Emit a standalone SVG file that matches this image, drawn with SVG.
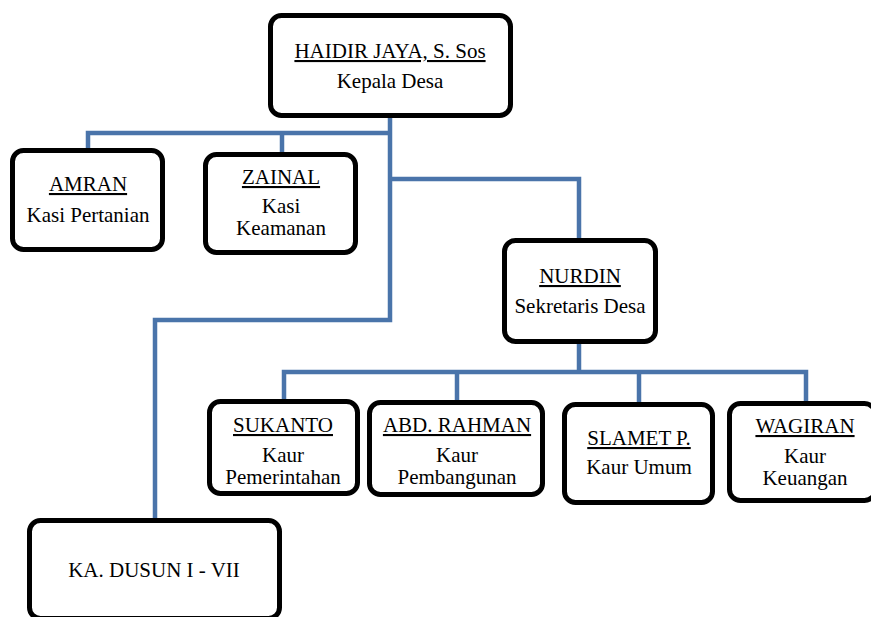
<svg xmlns="http://www.w3.org/2000/svg" width="871" height="617" viewBox="0 0 871 617">
<defs>
<style>
.box{fill:#fff;stroke:#000;stroke-width:5}
.c{fill:none;stroke:#4A74AA;stroke-width:4.5;stroke-linejoin:miter}
</style>
</defs>
<rect width="871" height="617" fill="#fff"/>
<g id="connectors">
<path class="c" d="M390 117 V320 H155 V519"/>
<path class="c" d="M88 149 V133 H390"/>
<path class="c" d="M282 133 V153"/>
<path class="c" d="M390 179 H579 V239"/>
<path class="c" d="M579 343 V372"/>
<path class="c" d="M284 400 V372 H806 V403"/>
<path class="c" d="M457 372 V401"/>
<path class="c" d="M639 372 V403"/>
</g>
<g id="nodes" font-family="Liberation Serif" font-size="21" text-anchor="middle" fill="#000">
<g id="haidir">
<rect class="box" x="270.5" y="15.5" width="240" height="100" rx="11"/>
<text text-decoration="underline" x="390" y="58">HAIDIR JAYA, S. Sos</text>
<text x="390" y="88">Kepala Desa</text>
</g>
<g id="amran">
<rect class="box" x="12.5" y="150.5" width="150" height="99" rx="11"/>
<text text-decoration="underline" x="88" y="191">AMRAN</text>
<text x="88" y="222">Kasi Pertanian</text>
</g>
<g id="zainal">
<rect class="box" x="205.5" y="154.5" width="150" height="98" rx="11"/>
<text text-decoration="underline" x="281" y="184">ZAINAL</text>
<text x="281" y="213">Kasi</text>
<text x="281" y="235">Keamanan</text>
</g>
<g id="nurdin">
<rect class="box" x="504.5" y="240.5" width="151" height="101" rx="11"/>
<text text-decoration="underline" x="580" y="283">NURDIN</text>
<text x="580" y="313">Sekretaris Desa</text>
</g>
<g id="sukanto">
<rect class="box" x="209.5" y="401.5" width="148" height="92" rx="11"/>
<text text-decoration="underline" x="283" y="432">SUKANTO</text>
<text x="283" y="462">Kaur</text>
<text x="283" y="484">Pemerintahan</text>
</g>
<g id="abdrahman">
<rect class="box" x="369.5" y="402.5" width="173" height="92" rx="11"/>
<text text-decoration="underline" x="457" y="432">ABD. RAHMAN</text>
<text x="457" y="462">Kaur</text>
<text x="457" y="484">Pembangunan</text>
</g>
<g id="slamet">
<rect class="box" x="564.5" y="404.5" width="148" height="98" rx="11"/>
<text text-decoration="underline" x="639" y="445">SLAMET P.</text>
<text x="639" y="474">Kaur Umum</text>
</g>
<g id="wagiran">
<rect class="box" x="729.5" y="403.5" width="146" height="97" rx="11"/>
<text text-decoration="underline" x="805" y="433">WAGIRAN</text>
<text x="805" y="463">Kaur</text>
<text x="805" y="485">Keuangan</text>
</g>
<g id="kadusun">
<rect class="box" x="29.5" y="520.5" width="250" height="98" rx="11"/>
<text x="154" y="577">KA. DUSUN I - VII</text>
</g>
</g>
</svg>
